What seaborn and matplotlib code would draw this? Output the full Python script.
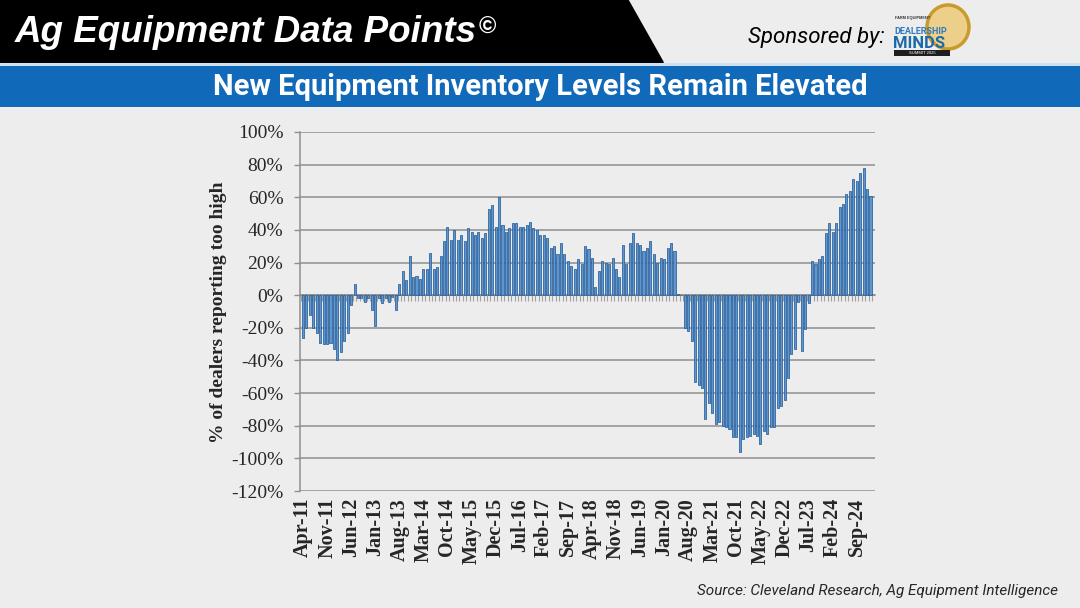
import numpy as np
import pandas as pd
import matplotlib
matplotlib.use("Agg")
import matplotlib.pyplot as plt
import seaborn as sns
from matplotlib.patches import Polygon, Rectangle, Ellipse

# monthly share of dealers saying new equipment inventory is too high (%)
start_month = "2011-04"
pct_too_high = [
    -26, -20, -12, -20, -23, -29, -30, -30, -29, -33, -40, -35, -28, -23,
    -6, 7, -2, -2, -4, -2, -9, -19, -2, -5, -2, -4, -1, -9,
    7, 15, 9, 24, 11, 12, 10, 16, 16, 26, 16, 17, 24, 33, 42, 34, 40, 34,
    37, 33, 41, 39, 37, 39, 35,
    38, 53, 55, 42, 60, 43, 39, 41, 44, 44, 42, 42, 43, 45, 41, 40, 37, 37,
    35, 29, 30, 25, 32, 25, 21, 18, 16, 22,
    19, 30, 28, 23, 5, 15, 21, 20, 19, 23, 16, 11, 31, 19, 32, 38, 32, 31,
    27, 29, 33, 25, 20, 23, 22, 29, 32, 27,
    1, 0,
    -20, -22, -28, -53, -55, -57, -76, -66, -72, -79, -78, -80, -81, -82,
    -87, -87, -96, -88, -87, -86, -85, -86, -91, -83, -85,
    -81, -81, -69, -68, -64, -51, -36, -33, -4, -34, -21, -5,
    21, 19, 22, 24, 38, 44, 39, 44, 54, 56, 62, 64, 71, 70, 75, 78, 65, 61,
]
tick_labels = ["Apr-11", "Nov-11", "Jun-12", "Jan-13", "Aug-13", "Mar-14",
               "Oct-14", "May-15", "Dec-15", "Jul-16", "Feb-17", "Sep-17",
               "Apr-18", "Nov-18", "Jun-19", "Jan-20", "Aug-20", "Mar-21",
               "Oct-21", "May-22", "Dec-22", "Jul-23", "Feb-24", "Sep-24"]
y_ticks = [100, 80, 60, 40, 20, 0, -20, -40, -60, -80, -100, -120]

months = list(pd.date_range(start_month, periods=len(pct_too_high), freq="MS").strftime("%b-%y"))
df = pd.DataFrame({"month": months, "pct": pct_too_high})

sns.set_theme(style="white")
plt.rcParams["font.family"] = ["Liberation Serif", "DejaVu Serif"]

W, H = 1080, 608
BG = "#ededed"
GRID = "#8f8f8f"
SANS = ["Liberation Sans", "DejaVu Sans"]
NARROW = ["Roboto", "DejaVu Sans"]


def fx(x):
    return x / W


def fy(y):
    return 1 - y / H


fig = plt.figure(figsize=(10.8, 6.08), dpi=100, facecolor=BG)

# header
fig.add_artist(Polygon([(fx(0), fy(0)), (fx(628), fy(0)), (fx(663), fy(62)),
                        (fx(663), fy(65)), (fx(0), fy(65))],
                       closed=True, transform=fig.transFigure, color="black"))
fig.add_artist(Rectangle((0, fy(67)), 1, fy(63) - fy(67), transform=fig.transFigure,
                         color="#cfe2f2", lw=0))
fig.add_artist(Rectangle((0, fy(107)), 1, fy(66) - fy(107), transform=fig.transFigure,
                         color="#1169b9", lw=0))
fig.text(fx(15), fy(33), "Ag Equipment Data Points", color="white", fontsize=26.5,
         fontweight="bold", fontstyle="italic", family=SANS, ha="left", va="center")
fig.text(fx(479), fy(27), "©", color="white", fontsize=17, fontweight="bold",
         family=SANS, ha="left", va="center")
fig.text(fx(540), fy(87), "New Equipment Inventory Levels Remain Elevated", color="white",
         fontsize=21, fontweight="bold", family=NARROW, ha="center", va="center")
fig.text(fx(885), fy(37), "Sponsored by:", color="black", fontsize=16,
         fontstyle="italic", family=NARROW, ha="right", va="center")

# sponsor logo (simplified)
fig.add_artist(Ellipse((fx(948), fy(27)), 42 / W, 44 / H, transform=fig.transFigure,
                       facecolor="#ecd08a", edgecolor="#c99a2e", lw=2.5))
fig.text(fx(895), fy(18), "FARM EQUIPMENT", fontsize=2.8, fontweight="bold", color="#333333",
         family=SANS, ha="left", va="center")
fig.text(fx(894), fy(31), "DEALERSHIP", fontsize=6.5, fontweight="bold", color="#2d78bf",
         family=NARROW, ha="left", va="center")
fig.text(fx(893), fy(43), "MINDS", fontsize=12, fontweight="bold", color="#1c6aa8",
         family=NARROW, ha="left", va="center")
fig.add_artist(Rectangle((fx(894), fy(56)), 56 / W, 6 / H, transform=fig.transFigure,
                         color="#1e1e1e", lw=0))
fig.text(fx(922), fy(53), "SUMMIT 2025", fontsize=3, color="white",
         family=SANS, ha="center", va="center")

# chart
ax = fig.add_axes([fx(300), fy(491), fx(875) - fx(300), fy(132) - fy(491)])
ax.set_facecolor("none")
sns.barplot(data=df, x="month", y="pct", ax=ax, color="#5b97d2", saturation=1,
            width=0.6, edgecolor="#2b5d97", linewidth=0.55)

ax.set_xlim(-0.87, len(pct_too_high) + 0.3)
ax.set_ylim(-120, 100)
ax.set_yticks(y_ticks)
ax.set_yticklabels([f"{v}%" for v in y_ticks], fontsize=14)
ax.set_xticks([months.index(l) for l in tick_labels])
ax.set_xticklabels(tick_labels, rotation=90, fontsize=14.5, fontweight="bold")
ax.tick_params(axis="x", length=0, pad=5)
ax.tick_params(axis="y", length=4, width=1, color=GRID, direction="out", pad=8, left=True)
ax.set_xlabel("")
ax.set_ylabel("")
ax.grid(axis="y", color=GRID, lw=1.1)
ax.set_axisbelow(True)
for side in ["top", "right", "bottom"]:
    ax.spines[side].set_visible(False)
ax.spines["left"].set_color(GRID)
ax.spines["left"].set_linewidth(1.1)

# category axis drawn through zero with small tick marks
zero_axis = ax.secondary_xaxis(120 / 220)
zero_axis.set_xticks(np.arange(len(pct_too_high) + 1) - 0.5)
zero_axis.set_xticklabels([])
zero_axis.tick_params(direction="in", length=4, width=0.8, color="#a0a0a0")
zero_axis.spines["top"].set_color(GRID)
zero_axis.spines["top"].set_linewidth(1.1)
zero_axis.spines["bottom"].set_visible(False)

fig.text(fx(218), fy(312), "% of dealers reporting too high", rotation=90, fontsize=14,
         fontweight="bold", ha="center", va="center")

fig.text(fx(1058), fy(591), "Source: Cleveland Research, Ag Equipment Intelligence",
         fontsize=11, fontstyle="italic", family=NARROW, ha="right", va="center")

fig.savefig("out.png", dpi=100, facecolor=BG)
